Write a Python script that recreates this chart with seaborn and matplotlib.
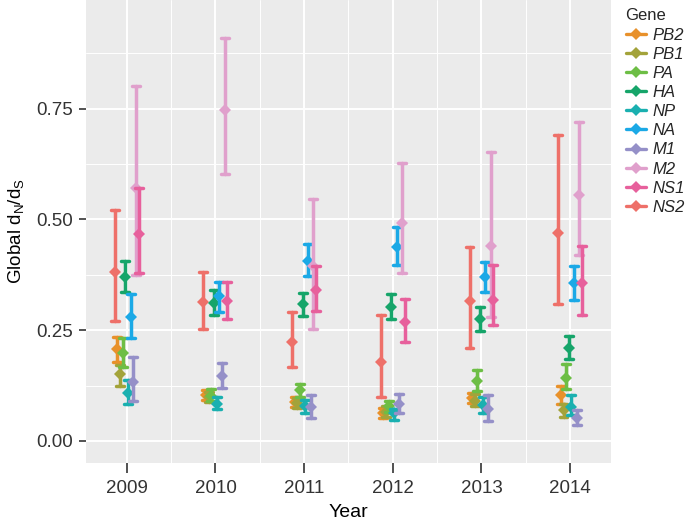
import numpy as np
import pandas as pd
import seaborn as sns
import matplotlib
matplotlib.use("Agg")
import matplotlib.pyplot as plt
from matplotlib.lines import Line2D
from matplotlib.ticker import FixedLocator

years = ["2009", "2010", "2011", "2012", "2013", "2014"]
legend_order = ["PB2", "PB1", "PA", "HA", "NP", "NA", "M1", "M2", "NS1", "NS2"]
dodge_order = ["NS2", "PB2", "PB1", "PA", "HA", "NP", "NA", "M1", "M2", "NS1"]

mid_PB2 = [0.207, 0.103, 0.087, 0.063, 0.096, 0.103]
lo_PB2 = [0.178, 0.092, 0.077, 0.052, 0.085, 0.084]
hi_PB2 = [0.235, 0.115, 0.100, 0.075, 0.108, 0.125]

mid_PB1 = [0.150, 0.098, 0.085, 0.066, 0.090, 0.069]
lo_PB1 = [0.125, 0.088, 0.075, 0.055, 0.078, 0.054]
hi_PB1 = [0.171, 0.110, 0.097, 0.078, 0.105, 0.084]

mid_PA = [0.199, 0.102, 0.115, 0.078, 0.135, 0.143]
lo_PA = [0.167, 0.090, 0.100, 0.066, 0.112, 0.118]
hi_PA = [0.232, 0.118, 0.129, 0.090, 0.160, 0.173]

mid_HA = [0.371, 0.312, 0.308, 0.302, 0.275, 0.209]
lo_HA = [0.336, 0.285, 0.281, 0.276, 0.249, 0.184]
hi_HA = [0.406, 0.340, 0.333, 0.331, 0.302, 0.237]

mid_NP = [0.108, 0.084, 0.078, 0.062, 0.080, 0.077]
lo_NP = [0.084, 0.071, 0.063, 0.048, 0.062, 0.058]
hi_NP = [0.137, 0.099, 0.092, 0.073, 0.100, 0.103]

mid_NA = [0.280, 0.327, 0.406, 0.438, 0.371, 0.356]
lo_NA = [0.232, 0.292, 0.372, 0.397, 0.336, 0.318]
hi_NA = [0.332, 0.359, 0.444, 0.483, 0.404, 0.395]

mid_M1 = [0.134, 0.147, 0.076, 0.084, 0.072, 0.051]
lo_M1 = [0.091, 0.120, 0.052, 0.062, 0.046, 0.036]
hi_M1 = [0.189, 0.176, 0.103, 0.105, 0.103, 0.069]

mid_M2 = [0.570, 0.746, 0.395, 0.492, 0.439, 0.555]
lo_M2 = [0.375, 0.602, 0.253, 0.380, 0.280, 0.419]
hi_M2 = [0.800, 0.910, 0.547, 0.628, 0.651, 0.720]

mid_NS1 = [0.467, 0.315, 0.340, 0.268, 0.319, 0.356]
lo_NS1 = [0.378, 0.275, 0.293, 0.223, 0.262, 0.283]
hi_NS1 = [0.571, 0.359, 0.394, 0.321, 0.397, 0.439]

mid_NS2 = [0.381, 0.313, 0.223, 0.177, 0.315, 0.470]
lo_NS2 = [0.270, 0.252, 0.167, 0.100, 0.209, 0.309]
hi_NS2 = [0.520, 0.381, 0.290, 0.283, 0.438, 0.690]

colors = {
    "NS2": "#EE7069", "PB2": "#E8912B", "PB1": "#A3A33A", "PA": "#6DBE45",
    "HA": "#16A56A", "NP": "#1AB0B0", "NA": "#1BA9E6", "M1": "#9590C8",
    "M2": "#E0A0CC", "NS1": "#E7609C",
}

series = {
    "PB2": (lo_PB2, mid_PB2, hi_PB2), "PB1": (lo_PB1, mid_PB1, hi_PB1),
    "PA": (lo_PA, mid_PA, hi_PA), "HA": (lo_HA, mid_HA, hi_HA),
    "NP": (lo_NP, mid_NP, hi_NP), "NA": (lo_NA, mid_NA, hi_NA),
    "M1": (lo_M1, mid_M1, hi_M1), "M2": (lo_M2, mid_M2, hi_M2),
    "NS1": (lo_NS1, mid_NS1, hi_NS1), "NS2": (lo_NS2, mid_NS2, hi_NS2),
}

rows = []
for gene, (lo, mid, hi) in series.items():
    for i, yr in enumerate(years):
        for v in (lo[i], mid[i], hi[i]):
            rows.append({"Year": yr, "Gene": gene, "dnds": v})
df = pd.DataFrame(rows)

sns.set_theme(style="darkgrid")
plt.rcParams["font.family"] = ["Liberation Sans", "DejaVu Sans"]
plt.rcParams["mathtext.default"] = "regular"

fig = plt.figure(figsize=(6.85, 5.28), dpi=100)
ax = fig.add_axes([0.1255, 0.123, 0.7664, 0.877])
ax.set_facecolor("#EBEBEB")

sns.pointplot(
    data=df, x="Year", y="dnds", hue="Gene", order=years, hue_order=dodge_order,
    palette=colors, estimator="median", errorbar=("pi", 100), dodge=0.27,
    markers="D", linestyle="none", capsize=0.09,
    err_kws={"linewidth": 2.5}, markersize=6, markeredgewidth=0,
    legend=False, ax=ax,
)

ax.set_xlim(-0.46, 5.46)
ax.set_ylim(-0.05, 0.995)
ax.yaxis.set_major_locator(FixedLocator([0.0, 0.25, 0.5, 0.75]))
ax.set_yticklabels(["0.00", "0.25", "0.50", "0.75"])
ax.yaxis.set_minor_locator(FixedLocator([0.125, 0.375, 0.625, 0.875]))
ax.xaxis.set_minor_locator(FixedLocator([0.5, 1.5, 2.5, 3.5, 4.5]))
ax.grid(which="major", color="white", linewidth=1.4)
ax.grid(which="minor", color="white", linewidth=0.7)
ax.set_axisbelow(True)
for s in ax.spines.values():
    s.set_visible(False)
ax.tick_params(which="major", length=5, width=1.2, color="#333333",
               labelsize=13.5, labelcolor="#333333")
ax.tick_params(axis="x", which="major", bottom=True, length=7, pad=5)
ax.tick_params(axis="y", which="major", left=True, length=5, pad=4)
ax.tick_params(which="minor", length=0)

ax.set_xlabel("Year", fontsize=14, color="black", labelpad=5)
ax.set_ylabel("Global d$_N$/d$_S$", fontsize=13.5, color="black", labelpad=8)

handles = [Line2D([], [], color=colors[g], marker="D", markersize=6.5,
                  linewidth=2.4, markeredgewidth=0) for g in legend_order]
leg = ax.legend(handles, legend_order, title="Gene", loc="upper left",
                bbox_to_anchor=(1.012, 1.0), frameon=False,
                prop={"style": "italic", "size": 12}, title_fontsize=12,
                handlelength=1.2, handletextpad=0.4, labelspacing=0.25,
                borderaxespad=0.3, borderpad=0.2)
leg._legend_box.align = "left"

fig.savefig("out.png", dpi=100)
